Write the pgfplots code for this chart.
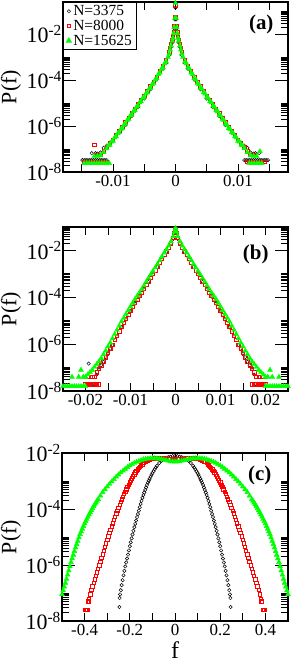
\documentclass[border=0pt]{standalone}
\usepackage{fontspec}
\setmainfont{Liberation Serif}
\usepackage{pgfplots}
\pgfplotsset{compat=1.18}
\definecolor{xgreen}{RGB}{0,255,0}
\definecolor{xred}{RGB}{255,0,0}
\pgfplotsset{
 every axis/.append style={
  scale only axis,
  axis line style={line width=1.1pt},
  tick align=inside,
  major tick length=8bp, minor tick length=7bp,
  tick style={black, line width=0.9pt},
  ytick style={/pgfplots/major tick length=13bp},
  scaled x ticks=false,
  xticklabel style={font=\fontsize{17}{17}\selectfont},
  yticklabel style={font=\fontsize{22}{22}\selectfont, inner xsep=1pt},
 },
 every axis legend/.append style={font=\fontsize{15.5}{17}\selectfont},
}
\tikzset{
 markB/.style={only marks, mark=o, mark size=1.7bp, black, line width=0.5pt},
 markR/.style={only marks, mark=square, mark size=1.7bp, xred, line width=0.8pt},
 markG/.style={only marks, mark=triangle*, mark size=2.8bp, xgreen},
}
\begin{document}
\begin{tikzpicture}
\useasboundingbox (0,0) rectangle (291bp,666bp);
% ---------------- panel (a)
\begin{axis}[at={(63bp,494bp)}, anchor=south west, width=225bp, height=170bp,
  ymode=log,
  xmin=-0.018, xmax=0.018, ymin=1e-8, ymax=0.2512,
  ytick={1e-8,1e-6,1e-4,1e-2},
  yticklabels={10\textsuperscript{-8},10\textsuperscript{-6},10\textsuperscript{-4},10\textsuperscript{-2}},
  minor ytick={2e-8,3e-8,4e-8,5e-8,6e-8,7e-8,8e-8,9e-8,1e-7,2e-6,3e-6,4e-6,5e-6,6e-6,7e-6,8e-6,9e-6,1e-5,2e-4,3e-4,4e-4,5e-4,6e-4,7e-4,8e-4,9e-4,1e-3,2e-2,3e-2,4e-2,5e-2,6e-2,7e-2,8e-2,9e-2,1e-1},
  ylabel={P(f)},
  ylabel style={at={(axis description cs:-0.231,0.5)}, rotate=0, anchor=center, font=\fontsize{22}{22}\selectfont},
  xtick={-0.015,-0.01,-0.005,0,0.005,0.01,0.015},
  xticklabels={{},{-0.01},{},{0},{},{0.01},{}},
  legend style={at={(rel axis cs:0,1)}, anchor=north west, draw=black, line width=0.9pt,
    inner xsep=3pt, inner ysep=1pt, row sep=-1pt},
  legend cell align=left]
\addplot[markB] coordinates {(-0.0149,3.3e-8)(-0.0146,3.3e-8)(-0.0143,3.3e-8)(-0.0140,3.3e-8)(-0.0137,3.3e-8)(-0.0134,3.3e-8)(-0.0131,3.3e-8)(-0.0128,3.3e-8)(-0.0125,3.3e-8)(-0.0122,3.3e-8)(-0.0119,3.3e-8)(-0.0116,3.3e-8)(-0.0113,3.3e-8)(-0.0110,3.3e-8)
(-0.0134,6.6e-8)(-0.0128,6.6e-8)(-0.0125,6.31e-8)(-0.0120,7.08e-8)(-0.0115,1.12e-7)(-0.0110,1.41e-7)(-0.0105,1.91e-7)(-0.0100,2.40e-7)(-0.0090,5.01e-7)(-0.0080,1.10e-6)(-0.0070,2.69e-6)(-0.0060,6.61e-6)(-0.0050,1.58e-5)(-0.0040,3.98e-5)(-0.0030,1.05e-4)(-0.0020,3.09e-4)(-0.0015,5.50e-4)(-0.0010,1.23e-3)(-0.0007,2.75e-3)(-0.0005,4.37e-3)(-0.0003,9.55e-3)(-0.0002,1.74e-2)(-0.0001,4.37e-2)(0,1.41e-1)
(0.0001,4.37e-2)(0.0002,1.74e-2)(0.0003,9.55e-3)(0.0005,4.37e-3)(0.0007,2.75e-3)(0.0010,1.23e-3)(0.0015,5.50e-4)(0.0020,3.09e-4)(0.0030,1.05e-4)(0.0040,3.98e-5)(0.0050,1.58e-5)(0.0060,6.61e-6)(0.0070,2.69e-6)(0.0080,1.10e-6)(0.0090,5.01e-7)(0.0100,2.40e-7)(0.0105,1.91e-7)(0.0110,1.41e-7)(0.0115,1.12e-7)(0.0120,7.08e-8)(0.0125,6.31e-8)(0.0128,6.6e-8)(0.0134,6.6e-8)
(0.0110,3.3e-8)(0.0113,3.3e-8)(0.0116,3.3e-8)(0.0119,3.3e-8)(0.0122,3.3e-8)(0.0125,3.3e-8)(0.0128,3.3e-8)(0.0131,3.3e-8)(0.0134,3.3e-8)(0.0137,3.3e-8)(0.0140,3.3e-8)(0.0143,3.3e-8)(0.0146,3.3e-8)(0.0148,3.3e-8)};
\addlegendentry{N=3375}
\addplot[markR] coordinates {(-0.0146,2.7e-8)(-0.0142,2.7e-8)(-0.0138,2.7e-8)(-0.0134,2.7e-8)(-0.0130,2.7e-8)(-0.0126,2.7e-8)(-0.0122,2.7e-8)(-0.0118,2.7e-8)(-0.0114,2.7e-8)(-0.0110,2.7e-8)
(-0.0130,1.48e-7)(-0.0125,5.4e-8)
(-0.0120,5.62e-8)(-0.0115,7.94e-8)(-0.0110,1.20e-7)(-0.0105,1.74e-7)(-0.0100,2.57e-7)(-0.0095,3.98e-7)(-0.0090,6.03e-7)(-0.0085,9.12e-7)(-0.0080,1.45e-6)(-0.0075,2.29e-6)(-0.0070,3.55e-6)(-0.0065,5.50e-6)(-0.0060,8.71e-6)(-0.0055,1.35e-5)(-0.0050,2.09e-5)(-0.0045,3.31e-5)(-0.0040,5.25e-5)(-0.0035,8.32e-5)(-0.0030,1.38e-4)(-0.0025,2.40e-4)(-0.0020,4.07e-4)(-0.0015,7.24e-4)(-0.0010,1.62e-3)(-0.00085,2.40e-3)(-0.0007,3.63e-3)(-0.0005,5.75e-3)(-0.0004,7.76e-3)(-0.0003,1.26e-2)(-0.0002,2.29e-2)(-0.0001,5.62e-2)(0,1.78e-1)
(0.0001,5.62e-2)(0.0002,2.29e-2)(0.0003,1.26e-2)(0.0004,7.76e-3)(0.0005,5.75e-3)(0.0007,3.63e-3)(0.00085,2.40e-3)(0.0010,1.62e-3)(0.0015,7.24e-4)(0.0020,4.07e-4)(0.0025,2.40e-4)(0.0030,1.38e-4)(0.0035,8.32e-5)(0.0040,5.25e-5)(0.0045,3.31e-5)(0.0050,2.09e-5)(0.0055,1.35e-5)(0.0060,8.71e-6)(0.0065,5.50e-6)(0.0070,3.55e-6)(0.0075,2.29e-6)(0.0080,1.45e-6)(0.0085,9.12e-7)(0.0090,6.03e-7)(0.0095,3.98e-7)(0.0100,2.57e-7)(0.0105,1.74e-7)(0.0110,1.20e-7)(0.0115,7.94e-8)(0.0120,5.62e-8)(0.0125,5.4e-8)
(0.0114,2.7e-8)(0.0118,2.7e-8)(0.0122,2.7e-8)(0.0126,2.7e-8)(0.0130,2.7e-8)(0.0134,2.7e-8)(0.0138,2.7e-8)(0.0142,2.7e-8)};
\addlegendentry{N=8000}
\addplot[markG] coordinates {(-0.0146,2.4e-8)(-0.0142,2.4e-8)(-0.0138,2.4e-8)(-0.0134,2.4e-8)(-0.0130,2.4e-8)(-0.0126,2.4e-8)(-0.0122,2.4e-8)(-0.0118,2.4e-8)(-0.0114,2.4e-8)(-0.0110,2.4e-8)(-0.0106,2.4e-8)
(-0.0130,4.8e-8)(-0.0125,5.0e-8)(-0.0120,5.25e-8)(-0.0115,7.24e-8)(-0.0110,1.05e-7)(-0.0105,1.51e-7)(-0.0100,2.24e-7)(-0.0095,3.47e-7)(-0.0090,5.25e-7)(-0.0085,7.94e-7)(-0.0080,1.26e-6)(-0.0075,2.00e-6)(-0.0070,3.09e-6)(-0.0065,4.79e-6)(-0.0060,7.59e-6)(-0.0055,1.17e-5)(-0.0050,1.82e-5)(-0.0045,2.88e-5)(-0.0040,4.57e-5)(-0.0035,7.24e-5)(-0.0030,1.20e-4)(-0.0025,2.09e-4)(-0.0020,3.55e-4)(-0.0015,6.31e-4)(-0.0012,1.00e-3)(-0.0010,1.41e-3)(-0.00085,2.09e-3)(-0.0007,3.16e-3)(-0.0005,5.01e-3)(-0.0004,6.76e-3)(-0.0003,1.10e-2)(-0.0002,2.00e-2)(-0.0001,5.01e-2)(0,2.24e-1)
(0.0001,5.01e-2)(0.0002,2.00e-2)(0.0003,1.10e-2)(0.0004,6.76e-3)(0.0005,5.01e-3)(0.0007,3.16e-3)(0.00085,2.09e-3)(0.0010,1.41e-3)(0.0012,1.00e-3)(0.0015,6.31e-4)(0.0020,3.55e-4)(0.0025,2.09e-4)(0.0030,1.20e-4)(0.0035,7.24e-5)(0.0040,4.57e-5)(0.0045,2.88e-5)(0.0050,1.82e-5)(0.0055,1.17e-5)(0.0060,7.59e-6)(0.0065,4.79e-6)(0.0070,3.09e-6)(0.0075,2.00e-6)(0.0080,1.26e-6)(0.0085,7.94e-7)(0.0090,5.25e-7)(0.0095,3.47e-7)(0.0100,2.24e-7)(0.0105,1.51e-7)(0.0110,1.05e-7)(0.0115,7.24e-8)(0.0120,5.25e-8)(0.0125,5.0e-8)(0.0130,4.8e-8)(0.0135,7.9e-8)
(0.0118,2.4e-8)(0.0122,2.4e-8)(0.0126,2.4e-8)(0.0130,2.4e-8)(0.0134,2.4e-8)(0.0138,2.4e-8)
(-0.00175,5.31e-4)(-0.00225,3.05e-4)(-0.00275,1.78e-4)(-0.00325,1.05e-4)(-0.00375,6.46e-5)(-0.00425,4.07e-5)(-0.00475,2.57e-5)(-0.00525,1.64e-5)(-0.00575,1.06e-5)(-0.00625,6.76e-6)(-0.00675,4.32e-6)(-0.00725,2.79e-6)(-0.00775,1.78e-6)(-0.00825,1.12e-6)(-0.00875,7.24e-7)(-0.00925,4.79e-7)(-0.00975,3.13e-7)(-0.01025,2.07e-7)(-0.01075,1.41e-7)
(0.00175,5.31e-4)(0.00225,3.05e-4)(0.00275,1.78e-4)(0.00325,1.05e-4)(0.00375,6.46e-5)(0.00425,4.07e-5)(0.00475,2.57e-5)(0.00525,1.64e-5)(0.00575,1.06e-5)(0.00625,6.76e-6)(0.00675,4.32e-6)(0.00725,2.79e-6)(0.00775,1.78e-6)(0.00825,1.12e-6)(0.00875,7.24e-7)(0.00925,4.79e-7)(0.00975,3.13e-7)(0.01025,2.07e-7)(0.01075,1.41e-7)};
\addlegendentry{N=15625}
\node[anchor=east, font={\fontsize{21}{21}\selectfont\bfseries}] at (rel axis cs:0.951,0.87) {(a)};
\end{axis}
% ---------------- panel (b)
\begin{axis}[at={(63bp,275bp)}, anchor=south west, width=225bp, height=164bp,
  ymode=log,
  xmin=-0.025, xmax=0.025, ymin=1e-8, ymax=0.1,
  ytick={1e-8,1e-6,1e-4,1e-2},
  yticklabels={10\textsuperscript{-8},10\textsuperscript{-6},10\textsuperscript{-4},10\textsuperscript{-2}},
  minor ytick={2e-8,3e-8,4e-8,5e-8,6e-8,7e-8,8e-8,9e-8,1e-7,2e-6,3e-6,4e-6,5e-6,6e-6,7e-6,8e-6,9e-6,1e-5,2e-4,3e-4,4e-4,5e-4,6e-4,7e-4,8e-4,9e-4,1e-3,2e-2,3e-2,4e-2,5e-2,6e-2,7e-2,8e-2,9e-2},
  ylabel={P(f)},
  ylabel style={at={(axis description cs:-0.231,0.5)}, rotate=0, anchor=center, font=\fontsize{22}{22}\selectfont},
  xtick={-0.02,-0.015,-0.01,-0.005,0,0.005,0.01,0.015,0.02},
  xticklabels={{-0.02},{},{-0.01},{},{0},{},{0.01},{},{0.02}}]
\addplot[markB] coordinates {(-0.0198,2.0e-8)(-0.0194,2.0e-8)(-0.0190,2.0e-8)(-0.0186,2.0e-8)(-0.0182,2.0e-8)(-0.0178,2.0e-8)(-0.0193,1.48e-7)
(-0.0175,5.01e-8)(-0.0170,1.00e-7)(-0.0165,1.26e-7)(-0.0160,1.78e-7)(-0.0155,2.82e-7)(-0.0150,3.80e-7)(-0.0145,6.31e-7)(-0.0140,9.12e-7)(-0.0130,2.19e-6)(-0.0120,5.25e-6)(-0.0110,1.15e-5)(-0.0100,2.51e-5)(-0.0090,5.37e-5)(-0.0080,1.07e-4)(-0.0070,2.19e-4)(-0.0060,4.57e-4)(-0.0050,9.55e-4)(-0.0040,1.95e-3)(-0.0030,4.17e-3)(-0.0020,8.71e-3)(-0.0010,1.91e-2)(-0.0005,3.16e-2)(0,7.59e-2)
(0.0005,3.16e-2)(0.0010,1.91e-2)(0.0020,8.71e-3)(0.0030,4.17e-3)(0.0040,1.95e-3)(0.0050,9.55e-4)(0.0060,4.57e-4)(0.0070,2.19e-4)(0.0080,1.07e-4)(0.0090,5.37e-5)(0.0100,2.51e-5)(0.0110,1.15e-5)(0.0120,5.25e-6)(0.0130,2.19e-6)(0.0140,9.12e-7)(0.0145,6.31e-7)(0.0150,3.80e-7)(0.0155,2.82e-7)(0.0160,1.78e-7)(0.0165,1.26e-7)(0.0170,1.00e-7)(0.0175,5.01e-8)
(0.0178,2.0e-8)(0.0182,2.0e-8)(0.0186,2.0e-8)(0.0190,2.0e-8)(0.0194,2.0e-8)(0.0198,2.0e-8)};
\addplot[markR] coordinates {(-0.0200,1.9e-8)(-0.0195,1.9e-8)(-0.0190,1.9e-8)(-0.0185,1.9e-8)(-0.0180,1.9e-8)(-0.0175,1.9e-8)(-0.0170,1.9e-8)
(-0.0195,3.98e-8)(-0.0185,3.98e-8)(-0.0180,3.98e-8)(-0.0175,6.31e-8)(-0.0170,8.91e-8)(-0.0165,1.26e-7)(-0.0160,1.82e-7)(-0.0155,2.75e-7)(-0.0150,4.17e-7)(-0.0145,6.31e-7)(-0.0140,9.55e-7)(-0.0135,1.48e-6)(-0.0130,2.29e-6)(-0.0125,3.55e-6)(-0.0120,5.50e-6)(-0.0115,8.13e-6)(-0.0110,1.20e-5)(-0.0105,1.78e-5)(-0.0100,2.63e-5)(-0.0095,3.80e-5)(-0.0090,5.62e-5)(-0.0085,7.94e-5)(-0.0080,1.12e-4)(-0.0075,1.58e-4)(-0.0070,2.29e-4)(-0.0065,3.31e-4)(-0.0060,4.79e-4)(-0.0055,6.92e-4)(-0.0050,1.00e-3)(-0.0045,1.41e-3)(-0.0040,2.04e-3)(-0.0035,2.95e-3)(-0.0030,4.37e-3)(-0.0025,6.31e-3)(-0.0020,9.12e-3)(-0.0015,1.32e-2)(-0.0010,2.00e-2)(-0.0005,3.39e-2)(-0.0002,5.62e-2)(0,7.94e-2)
(0.0002,5.62e-2)(0.0005,3.39e-2)(0.0010,2.00e-2)(0.0015,1.32e-2)(0.0020,9.12e-3)(0.0025,6.31e-3)(0.0030,4.37e-3)(0.0035,2.95e-3)(0.0040,2.04e-3)(0.0045,1.41e-3)(0.0050,1.00e-3)(0.0055,6.92e-4)(0.0060,4.79e-4)(0.0065,3.31e-4)(0.0070,2.29e-4)(0.0075,1.58e-4)(0.0080,1.12e-4)(0.0085,7.94e-5)(0.0090,5.62e-5)(0.0095,3.80e-5)(0.0100,2.63e-5)(0.0105,1.78e-5)(0.0110,1.20e-5)(0.0115,8.13e-6)(0.0120,5.50e-6)(0.0125,3.55e-6)(0.0130,2.29e-6)(0.0135,1.48e-6)(0.0140,9.55e-7)(0.0145,6.31e-7)(0.0150,4.17e-7)(0.0155,2.75e-7)(0.0160,1.82e-7)(0.0165,1.26e-7)(0.0170,8.91e-8)(0.0175,6.31e-8)(0.0180,3.98e-8)(0.0185,3.98e-8)(0.0195,3.98e-8)
(0.0170,1.9e-8)(0.0175,1.9e-8)(0.0180,1.9e-8)(0.0185,1.9e-8)(0.0190,1.9e-8)(0.0195,1.9e-8)(0.0200,1.9e-8)};
\addplot[markG] coordinates {(-0.0250,1.58e-8)(-0.0245,1.58e-8)(-0.0240,1.58e-8)(-0.0235,1.58e-8)(-0.0230,1.58e-8)(-0.0225,1.58e-8)(-0.0220,1.58e-8)(-0.0215,1.58e-8)(-0.0210,1.58e-8)(-0.0205,1.58e-8)(-0.0200,1.58e-8)
(-0.0230,3.98e-8)(-0.0215,3.98e-8)(-0.0210,7.94e-8)(-0.0205,3.98e-8)(-0.0200,3.98e-8)(-0.0195,5.01e-8)(-0.0190,6.31e-8)(-0.0185,7.94e-8)(-0.0180,1.05e-7)(-0.0175,1.38e-7)(-0.0170,1.82e-7)(-0.0165,2.51e-7)(-0.0160,3.63e-7)(-0.0155,5.25e-7)(-0.0150,7.94e-7)(-0.0145,1.15e-6)(-0.0140,1.74e-6)(-0.0135,2.63e-6)(-0.0130,3.98e-6)(-0.0125,6.03e-6)(-0.0120,9.12e-6)(-0.0115,1.32e-5)(-0.0110,1.91e-5)(-0.0105,2.75e-5)(-0.0100,3.98e-5)(-0.0095,5.75e-5)(-0.0090,8.32e-5)(-0.0085,1.15e-4)(-0.0080,1.58e-4)(-0.0075,2.19e-4)(-0.0070,3.16e-4)(-0.0065,4.57e-4)(-0.0060,6.61e-4)(-0.0055,9.33e-4)(-0.0050,1.32e-3)(-0.0045,1.86e-3)(-0.0040,2.63e-3)(-0.0035,3.80e-3)(-0.0030,5.50e-3)(-0.0025,7.94e-3)(-0.0020,1.12e-2)(-0.0015,1.58e-2)(-0.0010,2.40e-2)(-0.0005,3.98e-2)(-0.0002,6.31e-2)(0,8.91e-2)
(0.0002,6.31e-2)(0.0005,3.98e-2)(0.0010,2.40e-2)(0.0015,1.58e-2)(0.0020,1.12e-2)(0.0025,7.94e-3)(0.0030,5.50e-3)(0.0035,3.80e-3)(0.0040,2.63e-3)(0.0045,1.86e-3)(0.0050,1.32e-3)(0.0055,9.33e-4)(0.0060,6.61e-4)(0.0065,4.57e-4)(0.0070,3.16e-4)(0.0075,2.19e-4)(0.0080,1.58e-4)(0.0085,1.15e-4)(0.0090,8.32e-5)(0.0095,5.75e-5)(0.0100,3.98e-5)(0.0105,2.75e-5)(0.0110,1.91e-5)(0.0115,1.32e-5)(0.0120,9.12e-6)(0.0125,6.03e-6)(0.0130,3.98e-6)(0.0135,2.63e-6)(0.0140,1.74e-6)(0.0145,1.15e-6)(0.0150,7.94e-7)(0.0155,5.25e-7)(0.0160,3.63e-7)(0.0165,2.51e-7)(0.0170,1.82e-7)(0.0175,1.38e-7)(0.0180,1.05e-7)(0.0185,7.94e-8)(0.0190,6.31e-8)(0.0195,5.01e-8)(0.0200,3.98e-8)(0.0205,3.98e-8)(0.0210,7.94e-8)(0.0215,3.98e-8)(0.0230,3.98e-8)
(0.0200,1.58e-8)(0.0205,1.58e-8)(0.0210,1.58e-8)(0.0215,1.58e-8)(0.0220,1.58e-8)(0.0225,1.58e-8)(0.0230,1.58e-8)(0.0235,1.58e-8)(0.0240,1.58e-8)(0.0245,1.58e-8)(0.0250,1.58e-8)};
\node[anchor=east, font={\fontsize{21}{21}\selectfont\bfseries}] at (rel axis cs:0.929,0.832) {(b)};
\end{axis}
% ---------------- panel (c)
\begin{axis}[at={(62bp,45bp)}, anchor=south west, width=226bp, height=168bp,
  ymode=log,
  xmin=-0.5, xmax=0.5, ymin=1e-8, ymax=1e-2,
  ytick={1e-8,1e-6,1e-4,1e-2},
  yticklabels={10\textsuperscript{-8},10\textsuperscript{-6},10\textsuperscript{-4},10\textsuperscript{-2}},
  minor ytick={2e-8,3e-8,4e-8,5e-8,6e-8,7e-8,8e-8,9e-8,1e-7,2e-6,3e-6,4e-6,5e-6,6e-6,7e-6,8e-6,9e-6,1e-5,2e-4,3e-4,4e-4,5e-4,6e-4,7e-4,8e-4,9e-4,1e-3},
  ylabel={P(f)},
  ylabel style={at={(axis description cs:-0.226,0.5)}, rotate=0, anchor=center, font=\fontsize{22}{22}\selectfont},
  xtick={-0.4,-0.3,-0.2,-0.1,0,0.1,0.2,0.3,0.4},
  xticklabels={{-0.4},{},{-0.2},{},{0},{},{0.2},{},{0.4}},
  xlabel={f},
  xlabel style={at={(axis description cs:0.5,-0.222)}, anchor=base, inner sep=0pt, font=\fontsize{24}{24}\selectfont}]
\addplot[markB] coordinates {(-0.246,3.16e-8)(-0.245,6.61e-8)(-0.243,8.91e-8)(-0.24,1.26e-7)(-0.236,1.91e-7)(-0.232,2.88e-7)(-0.228,4.27e-7)(-0.224,6.17e-7)(-0.22,8.91e-7)(-0.216,1.23e-6)(-0.212,1.70e-6)(-0.208,2.34e-6)(-0.204,3.31e-6)(-0.2,4.68e-6)(-0.196,6.46e-6)(-0.192,8.91e-6)(-0.188,1.23e-5)(-0.184,1.66e-5)(-0.18,2.24e-5)(-0.176,2.95e-5)(-0.172,3.89e-5)(-0.168,5.13e-5)(-0.164,6.61e-5)(-0.16,8.71e-5)(-0.156,1.15e-4)(-0.152,1.51e-4)(-0.148,1.95e-4)(-0.144,2.51e-4)(-0.14,3.16e-4)(-0.136,3.89e-4)(-0.132,4.79e-4)(-0.128,5.89e-4)(-0.124,7.24e-4)(-0.12,8.71e-4)(-0.116,1.02e-3)(-0.112,1.20e-3)(-0.108,1.41e-3)(-0.104,1.66e-3)(-0.1,1.91e-3)(-0.095,2.24e-3)(-0.09,2.63e-3)(-0.085,3.02e-3)(-0.08,3.47e-3)(-0.07,4.37e-3)(-0.06,5.25e-3)(-0.05,6.03e-3)(-0.04,6.61e-3)(-0.03,7.08e-3)(-0.02,7.41e-3)(-0.01,7.76e-3)
(0,7.94e-3)(0.01,7.76e-3)(0.02,7.41e-3)(0.03,7.08e-3)(0.04,6.61e-3)(0.05,6.03e-3)(0.06,5.25e-3)(0.07,4.37e-3)(0.08,3.47e-3)(0.085,3.02e-3)(0.09,2.63e-3)(0.095,2.24e-3)(0.1,1.91e-3)(0.104,1.66e-3)(0.108,1.41e-3)(0.112,1.20e-3)(0.116,1.02e-3)(0.12,8.71e-4)(0.124,7.24e-4)(0.128,5.89e-4)(0.132,4.79e-4)(0.136,3.89e-4)(0.14,3.16e-4)(0.144,2.51e-4)(0.148,1.95e-4)(0.152,1.51e-4)(0.156,1.15e-4)(0.16,8.71e-5)(0.164,6.61e-5)(0.168,5.13e-5)(0.172,3.89e-5)(0.176,2.95e-5)(0.18,2.24e-5)(0.184,1.66e-5)(0.188,1.23e-5)(0.192,8.91e-6)(0.196,6.46e-6)(0.2,4.68e-6)(0.204,3.31e-6)(0.208,2.34e-6)(0.212,1.70e-6)(0.216,1.23e-6)(0.22,8.91e-7)(0.224,6.17e-7)(0.228,4.27e-7)(0.232,2.88e-7)(0.236,1.91e-7)(0.24,1.26e-7)(0.243,8.91e-8)(0.245,6.61e-8)(0.246,3.16e-8)};
\addplot[markR] coordinates {(-0.396,2.51e-8)(-0.392,2.51e-8)(-0.388,2.51e-8)(-0.385,5.01e-8)(-0.382,5.01e-8)(-0.38,6.31e-8)(-0.375,8.91e-8)(-0.37,1.26e-7)(-0.365,1.70e-7)(-0.36,2.29e-7)(-0.355,3.02e-7)(-0.35,4.07e-7)(-0.345,5.37e-7)(-0.34,7.24e-7)(-0.335,9.77e-7)(-0.33,1.32e-6)(-0.325,1.78e-6)(-0.32,2.40e-6)(-0.315,3.24e-6)(-0.31,4.37e-6)(-0.305,5.89e-6)(-0.3,7.94e-6)(-0.295,1.05e-5)(-0.29,1.38e-5)(-0.285,1.82e-5)(-0.28,2.40e-5)(-0.275,3.09e-5)(-0.27,4.07e-5)(-0.265,5.25e-5)(-0.26,6.92e-5)(-0.255,8.71e-5)(-0.25,1.10e-4)(-0.245,1.41e-4)(-0.24,1.78e-4)(-0.235,2.19e-4)(-0.23,2.69e-4)(-0.225,3.39e-4)(-0.22,4.17e-4)(-0.215,5.01e-4)(-0.21,6.03e-4)(-0.205,7.41e-4)(-0.2,8.91e-4)(-0.195,1.05e-3)(-0.19,1.23e-3)(-0.185,1.48e-3)(-0.18,1.74e-3)(-0.175,2.00e-3)(-0.17,2.24e-3)(-0.165,2.57e-3)(-0.16,2.95e-3)(-0.155,3.24e-3)(-0.15,3.63e-3)(-0.145,3.98e-3)(-0.14,4.37e-3)(-0.13,5.01e-3)(-0.12,5.50e-3)(-0.11,5.90e-3)(-0.1,6.17e-3)(-0.09,6.35e-3)(-0.08,6.46e-3)(-0.07,6.46e-3)(-0.06,6.46e-3)(-0.05,6.40e-3)(-0.04,6.31e-3)(-0.03,6.24e-3)(-0.02,6.17e-3)(-0.01,6.10e-3)
(0,6.03e-3)(0.01,6.10e-3)(0.02,6.17e-3)(0.03,6.24e-3)(0.04,6.31e-3)(0.05,6.40e-3)(0.06,6.46e-3)(0.07,6.46e-3)(0.08,6.46e-3)(0.09,6.35e-3)(0.1,6.17e-3)(0.11,5.90e-3)(0.12,5.50e-3)(0.13,5.01e-3)(0.14,4.37e-3)(0.145,3.98e-3)(0.15,3.63e-3)(0.155,3.24e-3)(0.16,2.95e-3)(0.165,2.57e-3)(0.17,2.24e-3)(0.175,2.00e-3)(0.18,1.74e-3)(0.185,1.48e-3)(0.19,1.23e-3)(0.195,1.05e-3)(0.2,8.91e-4)(0.205,7.41e-4)(0.21,6.03e-4)(0.215,5.01e-4)(0.22,4.17e-4)(0.225,3.39e-4)(0.23,2.69e-4)(0.235,2.19e-4)(0.24,1.78e-4)(0.245,1.41e-4)(0.25,1.10e-4)(0.255,8.71e-5)(0.26,6.92e-5)(0.265,5.25e-5)(0.27,4.07e-5)(0.275,3.09e-5)(0.28,2.40e-5)(0.285,1.82e-5)(0.29,1.38e-5)(0.295,1.05e-5)(0.3,7.94e-6)(0.305,5.89e-6)(0.31,4.37e-6)(0.315,3.24e-6)(0.32,2.40e-6)(0.325,1.78e-6)(0.33,1.32e-6)(0.335,9.77e-7)(0.34,7.24e-7)(0.345,5.37e-7)(0.35,4.07e-7)(0.355,3.02e-7)(0.36,2.29e-7)(0.365,1.70e-7)(0.37,1.26e-7)(0.375,8.91e-8)(0.38,6.31e-8)(0.382,5.01e-8)(0.385,5.01e-8)(0.388,2.51e-8)(0.392,2.51e-8)(0.396,2.51e-8)};
\addplot[markG] coordinates {(-0.5,8.91e-8)(-0.495,1.23e-7)(-0.49,1.66e-7)(-0.485,2.29e-7)(-0.48,3.16e-7)(-0.475,4.47e-7)(-0.47,6.31e-7)(-0.465,8.91e-7)(-0.46,1.26e-6)(-0.455,1.70e-6)(-0.45,2.29e-6)(-0.445,3.09e-6)(-0.44,4.17e-6)(-0.435,5.50e-6)(-0.43,7.24e-6)(-0.425,9.55e-6)(-0.42,1.26e-5)(-0.415,1.57e-5)(-0.41,1.95e-5)(-0.405,2.43e-5)(-0.4,3.02e-5)(-0.395,3.63e-5)(-0.39,4.37e-5)(-0.385,5.25e-5)(-0.38,6.31e-5)(-0.375,7.50e-5)(-0.37,8.91e-5)(-0.365,1.06e-4)(-0.36,1.26e-4)(-0.355,1.45e-4)(-0.35,1.68e-4)(-0.345,1.95e-4)(-0.34,2.24e-4)(-0.33,2.99e-4)(-0.32,3.98e-4)(-0.31,5.01e-4)(-0.3,6.31e-4)(-0.29,7.76e-4)(-0.28,9.55e-4)(-0.27,1.16e-3)(-0.26,1.41e-3)(-0.25,1.68e-3)(-0.24,2.00e-3)(-0.23,2.32e-3)(-0.22,2.69e-3)(-0.21,3.09e-3)(-0.2,3.55e-3)(-0.19,3.94e-3)(-0.18,4.37e-3)(-0.17,4.75e-3)(-0.16,5.13e-3)(-0.15,5.50e-3)(-0.14,5.89e-3)(-0.13,6.10e-3)(-0.12,6.31e-3)(-0.11,6.40e-3)(-0.1,6.46e-3)(-0.09,6.40e-3)(-0.08,6.31e-3)(-0.07,6.20e-3)(-0.06,6.03e-3)(-0.05,5.75e-3)(-0.04,5.50e-3)(-0.03,5.25e-3)(-0.02,5.01e-3)(-0.01,4.95e-3)
(0,4.90e-3)(0.01,4.95e-3)(0.02,5.01e-3)(0.03,5.25e-3)(0.04,5.50e-3)(0.05,5.75e-3)(0.06,6.03e-3)(0.07,6.20e-3)(0.08,6.31e-3)(0.09,6.40e-3)(0.1,6.46e-3)(0.11,6.40e-3)(0.12,6.31e-3)(0.13,6.10e-3)(0.14,5.89e-3)(0.15,5.50e-3)(0.16,5.13e-3)(0.17,4.75e-3)(0.18,4.37e-3)(0.19,3.94e-3)(0.2,3.55e-3)(0.21,3.09e-3)(0.22,2.69e-3)(0.23,2.32e-3)(0.24,2.00e-3)(0.25,1.68e-3)(0.26,1.41e-3)(0.27,1.16e-3)(0.28,9.55e-4)(0.29,7.76e-4)(0.3,6.31e-4)(0.31,5.01e-4)(0.32,3.98e-4)(0.33,2.99e-4)(0.34,2.24e-4)(0.345,1.95e-4)(0.35,1.68e-4)(0.355,1.45e-4)(0.36,1.26e-4)(0.365,1.06e-4)(0.37,8.91e-5)(0.375,7.50e-5)(0.38,6.31e-5)(0.385,5.25e-5)(0.39,4.37e-5)(0.395,3.63e-5)(0.4,3.02e-5)(0.405,2.43e-5)(0.41,1.95e-5)(0.415,1.57e-5)(0.42,1.26e-5)(0.425,9.55e-6)(0.43,7.24e-6)(0.435,5.50e-6)(0.44,4.17e-6)(0.445,3.09e-6)(0.45,2.29e-6)(0.455,1.70e-6)(0.46,1.26e-6)(0.465,8.91e-7)(0.47,6.31e-7)(0.475,4.47e-7)(0.48,3.16e-7)(0.485,2.29e-7)(0.49,1.66e-7)(0.495,1.23e-7)(0.5,8.91e-8)};
\node[anchor=east, font={\fontsize{21}{21}\selectfont\bfseries}] at (rel axis cs:0.942,0.866) {(c)};
\end{axis}
\end{tikzpicture}
\end{document}
